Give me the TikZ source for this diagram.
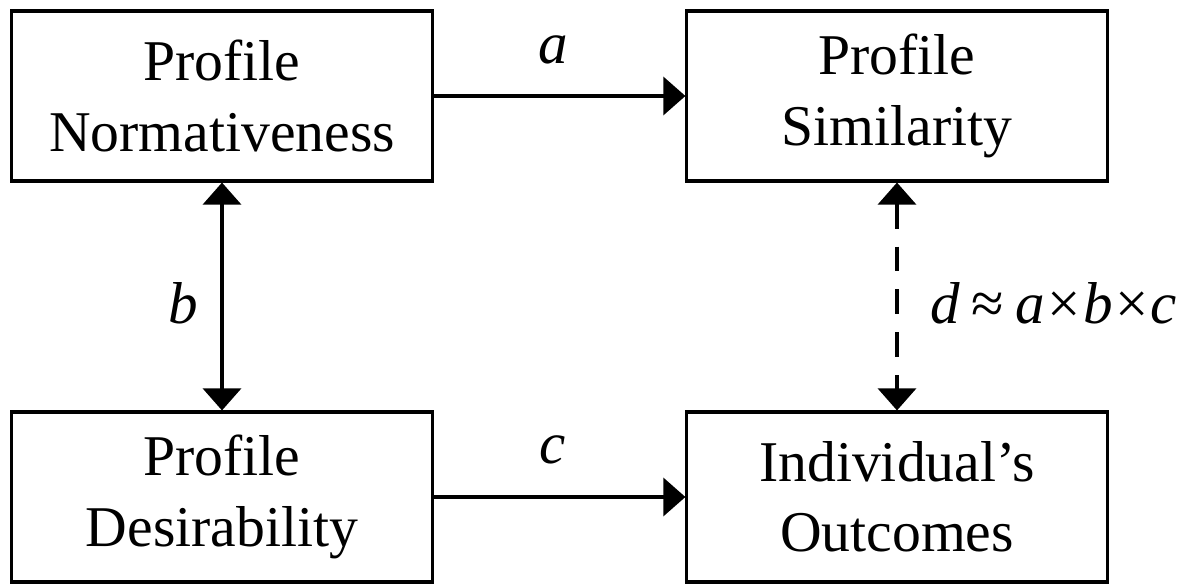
\documentclass[tikz,border=0pt]{standalone}
\usepackage{fontspec}
\setmainfont{Liberation Serif}
\usetikzlibrary{arrows.meta}
\tikzset{
  box/.style={draw, line width=2.2pt, minimum width=10.5cm, minimum height=4.25cm,
    align=center, inner sep=0pt, font=\fontsize{41}{50}\selectfont},
  lbl/.style={font=\fontsize{42}{50}\selectfont\itshape, inner sep=0pt},
  arr/.style={line width=2.2pt, -{Triangle[width=0.95cm,length=0.55cm]}},
  twoarr/.style={line width=2.2pt, {Triangle[width=0.95cm,length=0.55cm]}-{Triangle[width=0.95cm,length=0.55cm]}},
  dasharr/.style={twoarr, dash pattern=on 0.62cm off 0.45cm}
}
\begin{document}
\begin{tikzpicture}[x=0.025cm,y=-0.025cm]
	%%%%% START %%%%%
	\useasboundingbox (0,0) rectangle (1198,584);
	
	\node[box] (norm) at (222,96) {Profile\\Normativeness};
	\node[box] (simil) at (897,96) {Profile\\Similarity};
	\node[box] (desir) at (222,497) {Profile\\Desirability};
	\node[box] (outc) at (897,497) {Individual’s\\Outcomes};
	
	\draw[arr] (norm) -- (simil);
	\draw[arr] (desir) -- (outc);
	\draw[twoarr] (norm) -- (desir);
	\draw[dasharr] (simil) -- (outc);
	
	\node[lbl] (la) at (553,50) {a};
	\node[lbl] (lc) at (553,450) {c};
	\node[lbl] (lb) at (183,303) {b};
	\node[lbl, anchor=west] (ld) at (930,303) {d\kern0.2em\upshape≈\kern0.2em\itshape a\kern0.04em\upshape×\kern0.04em\itshape b\kern0.04em\upshape×\kern0.04em\itshape c};
	
	%%%%% END %%%%%
\end{tikzpicture}
\end{document}
